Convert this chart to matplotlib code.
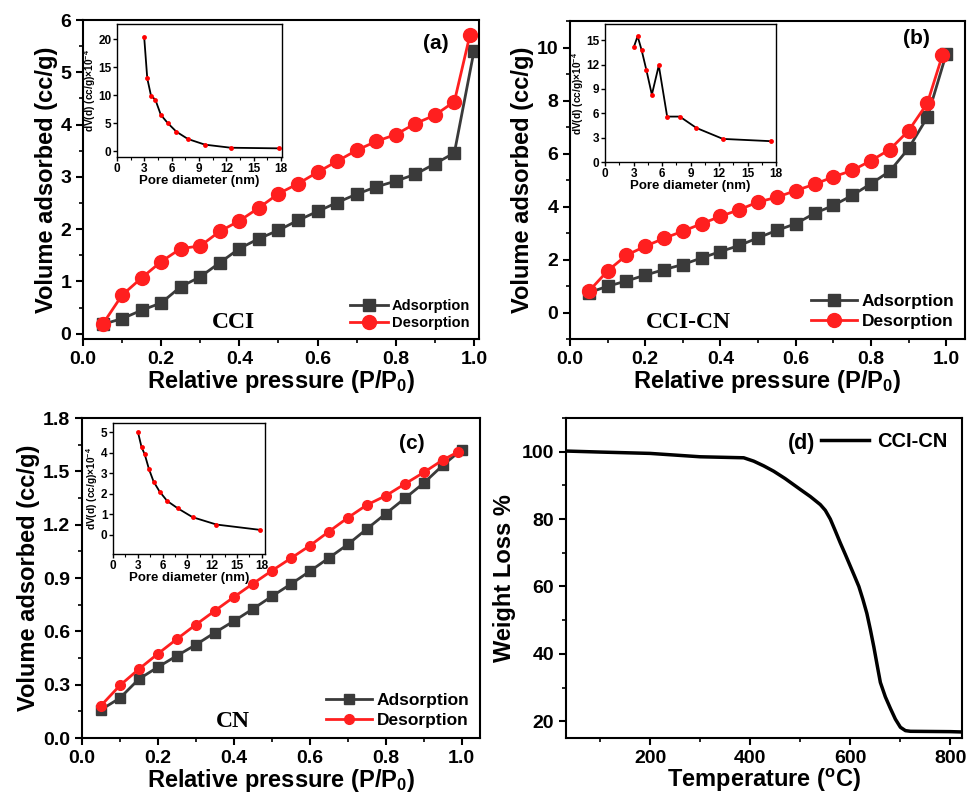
import matplotlib
matplotlib.use('Agg')
import matplotlib.pyplot as plt
from matplotlib.ticker import MultipleLocator

plt.rcParams['font.family'] = ['Liberation Sans', 'DejaVu Sans']
plt.rcParams['font.weight'] = 'bold'
plt.rcParams['axes.labelweight'] = 'bold'
plt.rcParams['mathtext.fontset'] = 'custom'
plt.rcParams['mathtext.rm'] = 'Liberation Sans:bold'
plt.rcParams['mathtext.bf'] = 'Liberation Sans:bold'
plt.rcParams['mathtext.default'] = 'bf'

# relative pressure points
p_ads = [0.05, 0.10, 0.15, 0.20, 0.25, 0.30, 0.35, 0.40, 0.45, 0.50,
         0.55, 0.60, 0.65, 0.70, 0.75, 0.80, 0.85, 0.90, 0.95, 1.00]
p_des = [0.05, 0.10, 0.15, 0.20, 0.25, 0.30, 0.35, 0.40, 0.45, 0.50,
         0.55, 0.60, 0.65, 0.70, 0.75, 0.80, 0.85, 0.90, 0.95, 0.99]

# (a) CCI
cci_ads = [0.18, 0.29, 0.45, 0.59, 0.90, 1.09, 1.36, 1.63, 1.82, 1.98,
           2.17, 2.34, 2.51, 2.67, 2.81, 2.92, 3.05, 3.25, 3.46, 5.40]
cci_des = [0.18, 0.74, 1.07, 1.38, 1.63, 1.68, 1.96, 2.16, 2.41, 2.68,
           2.87, 3.09, 3.30, 3.51, 3.68, 3.81, 4.02, 4.18, 4.44, 5.72]
cci_pd = [2.98, 3.32, 3.73, 4.21, 4.81, 5.59, 6.52, 7.79, 9.65, 12.49, 17.8]
cci_dv = [20.4, 13.0, 9.94, 9.2, 6.5, 5.0, 3.5, 2.2, 1.2, 0.65, 0.54]

# (b) CCI-CN
ccicn_ads = [0.75, 0.99, 1.19, 1.41, 1.62, 1.81, 2.06, 2.30, 2.53, 2.82,
             3.10, 3.35, 3.74, 4.04, 4.42, 4.86, 5.33, 6.19, 7.37, 9.75]
ccicn_des = [0.80, 1.57, 2.16, 2.50, 2.80, 3.07, 3.35, 3.63, 3.88, 4.17,
             4.35, 4.60, 4.84, 5.12, 5.36, 5.73, 6.15, 6.86, 7.90, 9.71]
ccicn_pd = [3.04, 3.43, 3.85, 4.34, 4.93, 5.66, 6.54, 7.87, 9.62, 12.41, 17.45]
ccicn_dv = [14.19, 15.5, 13.8, 11.4, 8.3, 11.9, 5.6, 5.6, 4.2, 2.85, 2.57]

# (c) CN
cn_ads = [0.159, 0.225, 0.332, 0.399, 0.463, 0.525, 0.593, 0.658, 0.726, 0.797,
          0.866, 0.938, 1.013, 1.089, 1.176, 1.262, 1.348, 1.434, 1.534, 1.622]
cn_des = [0.182, 0.296, 0.388, 0.474, 0.557, 0.638, 0.716, 0.793, 0.868, 0.941,
          1.011, 1.082, 1.161, 1.239, 1.311, 1.363, 1.429, 1.494, 1.564, 1.609]
cn_pd = [3.02, 3.46, 3.83, 4.35, 4.91, 5.64, 6.56, 7.85, 9.63, 12.52, 17.8]
cn_dv = [5.0, 4.26, 3.93, 3.2, 2.59, 2.1, 1.64, 1.28, 0.85, 0.49, 0.23]

# (d) TGA of CCI-CN
temp = [32, 100, 200, 300, 387, 407, 427, 447, 470, 500, 520, 540, 550, 560,
        570, 580, 590, 600, 608, 617, 625, 633, 640, 647, 654, 660, 670, 680,
        690, 700, 710, 720, 800, 823]
weight = [100.2, 99.9, 99.5, 98.5, 98.2, 97.2, 95.8, 94.2, 92.0, 88.8, 86.7, 84.3,
          82.6, 80.0, 76.5, 72.9, 69.5, 66.0, 63.2, 60.0, 56.2, 52.0, 47.2, 42.0,
          36.3, 31.5, 27.2, 23.8, 20.6, 18.2, 17.2, 17.0, 16.9, 16.8]

BLACK = '#3a3a3a'
RED = '#ff1f1f'


def style_axes(ax, lw=1.5, size=14):
    for s in ax.spines.values():
        s.set_linewidth(lw)
    ax.tick_params(which='major', direction='out', length=5, width=lw, labelsize=size)
    ax.tick_params(which='minor', direction='out', length=3, width=lw * 0.8)


def isotherm(ax, ads, des, ms_sq, ms_ci, label, txt_xy, tag, tag_xy, leg_size):
    ax.plot(p_ads, ads, '-s', color=BLACK, lw=2, ms=ms_sq, label='Adsorption')
    ax.plot(p_des, des, '-o', color=RED, lw=2, ms=ms_ci, label='Desorption')
    ax.set_xlabel('Relative pressure (P/P$_0$)', fontsize=17, labelpad=0)
    ax.set_ylabel('Volume adsorbed (cc/g)', fontsize=17, labelpad=2)
    ax.xaxis.set_major_locator(MultipleLocator(0.2))
    ax.xaxis.set_minor_locator(MultipleLocator(0.1))
    style_axes(ax)
    ax.legend(loc='lower right', frameon=False, fontsize=leg_size,
              handlelength=2.6, handletextpad=0.3, borderaxespad=0.2,
              labelspacing=0.25)
    ax.text(txt_xy[0], txt_xy[1], label, transform=ax.transAxes,
            family='Liberation Serif', fontweight='bold', fontsize=17,
            ha='center', va='bottom')
    ax.text(tag_xy[0], tag_xy[1], tag, transform=ax.transAxes,
            fontsize=15, fontweight='bold', ha='center', va='center')


def inset(fig, rect, pd_, dv, xmax, ylim, ystep):
    ax = fig.add_axes(rect)
    ax.plot(pd_, dv, '-', color='black', lw=1.3)
    ax.plot(pd_, dv, 'o', color='red', ms=3.5, mec='none')
    ax.set_xlim(0, xmax)
    ax.set_ylim(*ylim)
    ax.xaxis.set_major_locator(MultipleLocator(3))
    ax.xaxis.set_minor_locator(MultipleLocator(1.5))
    ax.yaxis.set_major_locator(MultipleLocator(ystep))
    ax.set_xlabel('Pore diameter (nm)', fontsize=9.5, labelpad=0)
    ax.set_ylabel('dV(d) (cc/g)$\\times10^{-4}$', fontsize=7.3, labelpad=0.5)
    for s in ax.spines.values():
        s.set_linewidth(1.0)
    ax.tick_params(which='major', direction='out', length=3, width=1, labelsize=8.5, pad=1)
    ax.tick_params(which='minor', direction='out', length=2, width=0.8)
    return ax


fig = plt.figure(figsize=(9.71, 7.99), dpi=100)

# (a)
ax1 = fig.add_axes([0.0855, 0.5757, 0.4078, 0.3992])
isotherm(ax1, cci_ads, cci_des, 8, 10, 'CCI', (0.38, 0.02), '(a)', (0.89, 0.925), 10.5)
ax1.set_xlim(0, 1.013)
ax1.set_ylim(-0.1, 6)
ax1.yaxis.set_major_locator(MultipleLocator(1))
ax1.yaxis.set_minor_locator(MultipleLocator(0.5))
inset(fig, [0.1205, 0.8035, 0.1699, 0.1665], cci_pd, cci_dv, 18.1, (-1, 22.7), 5)

# (b)
ax2 = fig.add_axes([0.587, 0.5757, 0.4068, 0.398])
isotherm(ax2, ccicn_ads, ccicn_des, 8, 10, 'CCI-CN', (0.3, 0.02), '(b)', (0.878, 0.945), 12.5)
ax2.set_xlim(0, 1.05)
ax2.set_ylim(-1, 11)
ax2.yaxis.set_major_locator(MultipleLocator(2))
ax2.yaxis.set_minor_locator(MultipleLocator(1))
inset(fig, [0.6231, 0.7972, 0.1761, 0.1727], ccicn_pd, ccicn_dv, 18, (0, 17), 3)

# (c)
ax3 = fig.add_axes([0.0844, 0.0763, 0.4099, 0.4005])
isotherm(ax3, cn_ads, cn_des, 6.5, 7, 'CN', (0.38, 0.02), '(c)', (0.83, 0.92), 12.5)
ax3.set_xlim(0, 1.048)
ax3.set_ylim(0, 1.8)
ax3.yaxis.set_major_locator(MultipleLocator(0.3))
ax3.yaxis.set_minor_locator(MultipleLocator(0.15))
inset(fig, [0.1164, 0.3066, 0.1565, 0.164], cn_pd, cn_dv, 18.4, (-0.95, 5.45), 1)

# (d)
ax4 = fig.add_axes([0.5829, 0.0763, 0.4078, 0.4005])
ax4.plot(temp, weight, '-', color='black', lw=2.5, label='CCI-CN')
ax4.set_xlim(32, 823)
ax4.set_ylim(15, 110)
ax4.xaxis.set_major_locator(MultipleLocator(200))
ax4.xaxis.set_minor_locator(MultipleLocator(100))
ax4.yaxis.set_major_locator(MultipleLocator(20))
ax4.yaxis.set_minor_locator(MultipleLocator(10))
ax4.set_xlabel('Temperature ($^{o}$C)', fontsize=17, labelpad=0)
ax4.set_ylabel('Weight Loss %', fontsize=17, labelpad=4)
style_axes(ax4)
ax4.legend(loc='upper right', frameon=False, fontsize=14.5, handlelength=2.4,
           handletextpad=0.4, borderaxespad=0.3)
ax4.text(0.596, 0.92, '(d)', transform=ax4.transAxes, fontsize=15.5,
         fontweight='bold', ha='center', va='center')

fig.savefig('out.png', dpi=100)
